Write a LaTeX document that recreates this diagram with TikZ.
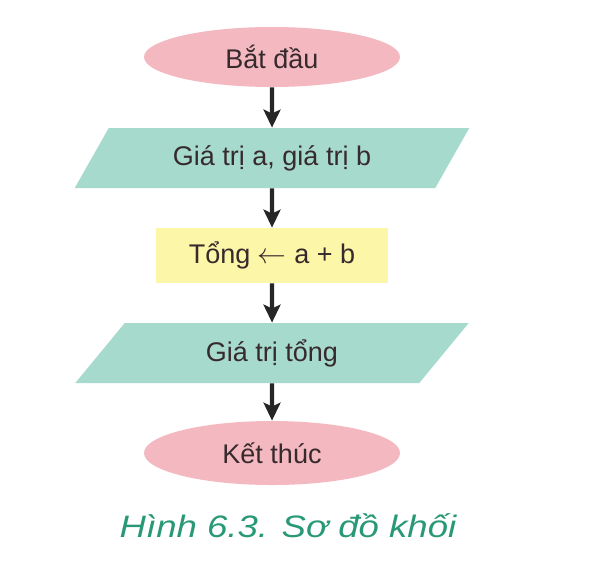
\documentclass[tikz,border=0pt]{standalone}
\usepackage{fontspec}
\setmainfont{Liberation Sans}
\newfontfamily\capfont[FakeStretch=1.18]{Liberation Sans}
\usetikzlibrary{arrows.meta, shapes.geometric}
\definecolor{termpink}{RGB}{244,184,193}
\definecolor{iogreen}{RGB}{166,218,205}
\definecolor{procyellow}{RGB}{252,246,168}
\definecolor{textdark}{RGB}{55,42,45}
\definecolor{captiongreen}{RGB}{40,152,118}

\begin{document}
\begin{tikzpicture}[x=0.5pt, y=-0.5pt,
        every node/.style={font=\fontsize{13.5}{16}\selectfont, text=textdark},
        terminal/.style={ellipse, fill=termpink, minimum width=128pt, minimum height=30pt, inner sep=0pt},
        inout/.style={trapezium, trapezium left angle=51, trapezium right angle=129, trapezium stretches=true,
            fill=iogreen, minimum width=197.5pt, minimum height=30pt, inner sep=0pt},
        process/.style={rectangle, fill=procyellow, minimum width=116pt, minimum height=27.5pt},
        flow/.style={-{Stealth[length=9pt, width=8.5pt, inset=2pt]}, line width=2.2pt, draw=black!85}]
        \useasboundingbox (0,0) rectangle (597,562);
        \node[terminal] (start) at (272,57) {Bắt đầu};
        \node[inout] (input) at (272,158) {Giá trị a, giá trị b};
        \node[process] (sum) at (272,255.5) {Tổng $\leftarrow$ a + b};
        \node[inout] (output) at (272,353) {Giá trị tổng};
        \node[terminal, minimum height=32pt] (stop) at (272,453) {Kết thúc};
        \draw[flow] (start) -- (input);
        \draw[flow] (input) -- (sum);
        \draw[flow] (sum) -- (output);
        \draw[flow] (output) -- (stop);
        \node[anchor=base, text=captiongreen, font=\capfont\fontsize{15.5}{18}\selectfont\itshape] (caption) at (288,537) {Hình 6.3. Sơ đồ khối};
    \end{tikzpicture}
\end{document}
